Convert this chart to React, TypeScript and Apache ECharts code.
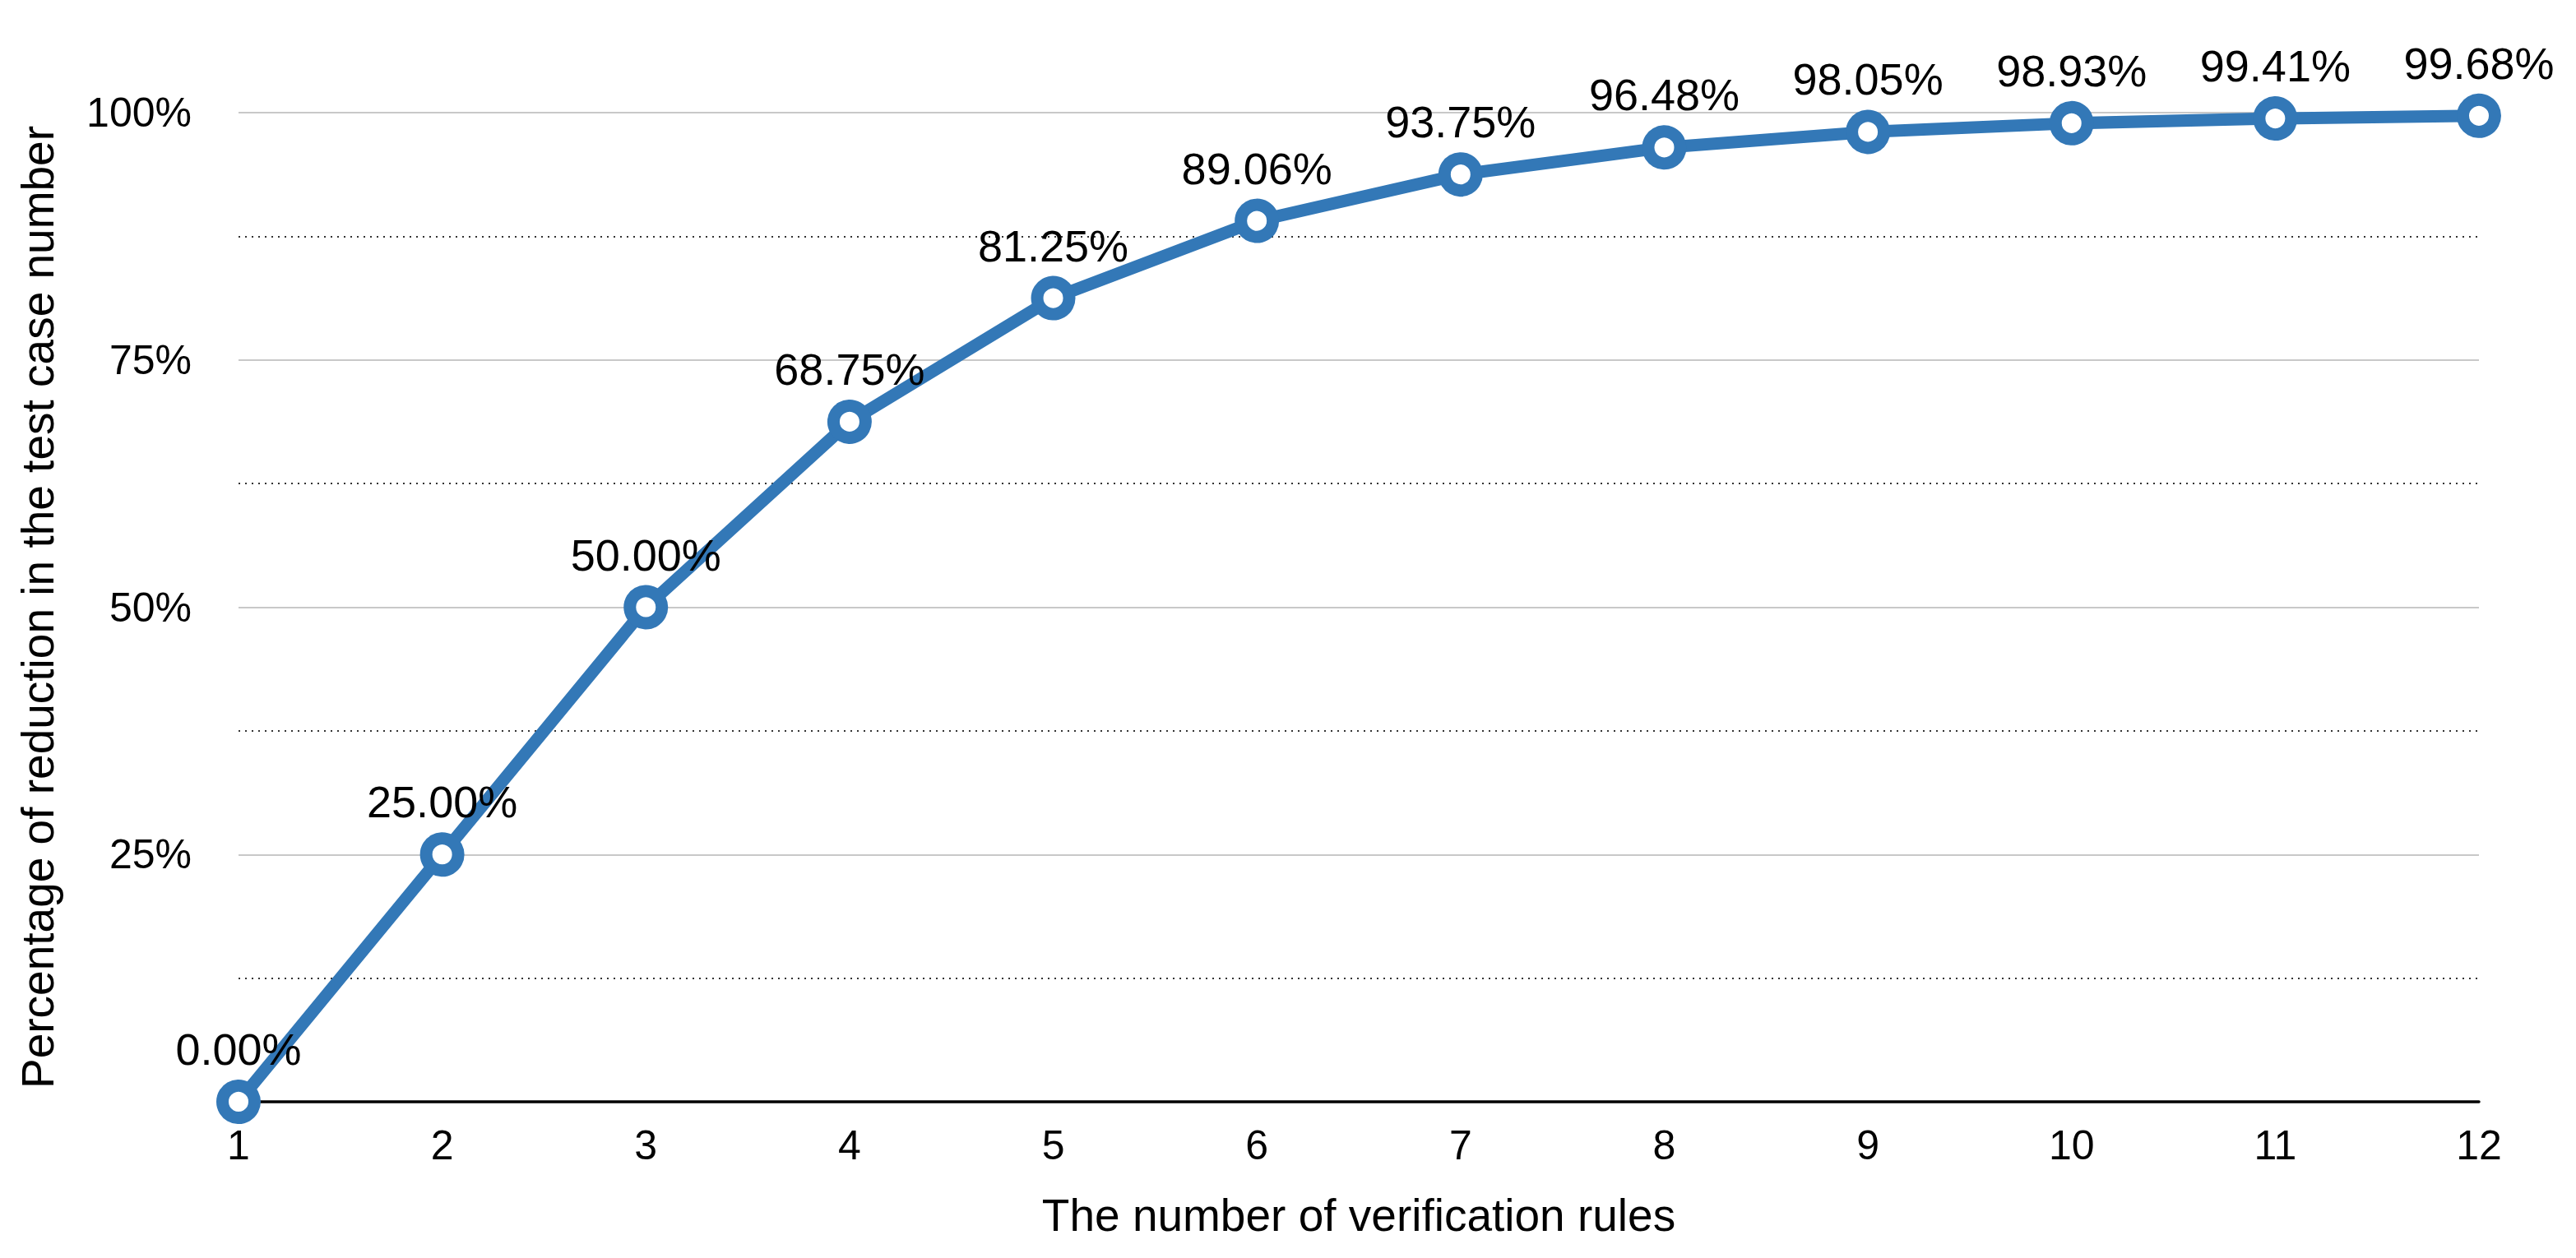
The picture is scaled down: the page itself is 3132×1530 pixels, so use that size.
import React, { useEffect, useRef } from "react";
import * as echarts from "echarts";

const categories = ["1", "2", "3", "4", "5", "6", "7", "8", "9", "10", "11", "12"];
const reduction = [0.0, 25.0, 50.0, 68.75, 81.25, 89.06, 93.75, 96.48, 98.05, 98.93, 99.41, 99.68];
const yTicks = [0, 25, 50, 75, 100];
const xTitle = "The number of verification rules";
const yTitle = "Percentage of reduction in the test case number";

const FONT = "'Liberation Sans', Arial, Helvetica, sans-serif";
const BLUE = "#3378b7";

export default function App() {
  const ref = useRef<HTMLDivElement>(null);
  useEffect(() => {
    if (!ref.current) return;
    const chart = echarts.init(ref.current, undefined, { renderer: "svg" });
    chart.setOption({
      animation: false,
      backgroundColor: "#ffffff",
      grid: { left: 290, right: 118, top: 137, bottom: 190, containLabel: false },
      xAxis: {
        type: "category",
        data: categories,
        boundaryGap: false,
        axisLine: { show: true, lineStyle: { color: "#000000", width: 3.5 } },
        axisTick: { show: false },
        axisLabel: { color: "#000000", fontSize: 50, fontFamily: FONT, margin: 28 },
        splitLine: { show: false },
        name: xTitle,
        nameLocation: "middle",
        nameGap: 110,
        nameTextStyle: { color: "#000000", fontSize: 55, fontFamily: FONT },
      },
      yAxis: {
        type: "value",
        min: yTicks[0],
        max: yTicks[yTicks.length - 1],
        interval: 25,
        axisLine: { show: false },
        axisTick: { show: false },
        axisLabel: {
          color: "#000000",
          fontSize: 50,
          fontFamily: FONT,
          margin: 57,
          formatter: (v: number) => (v === 0 ? "" : `${v}%`),
        },
        splitLine: { show: true, lineStyle: { color: "#c8c8c8", width: 2 } },
        minorTick: { show: false, splitNumber: 2 },
        minorSplitLine: { show: true, lineStyle: { color: "#333333", width: 2, type: [2, 6] } },
        name: yTitle,
        nameLocation: "middle",
        nameGap: 217,
        nameRotate: 90,
        nameTextStyle: { color: "#000000", fontSize: 55, fontFamily: FONT },
      },
      series: [
        {
          type: "line",
          data: reduction,
          symbol: "circle",
          symbolSize: 39,
          lineStyle: { color: BLUE, width: 15 },
          itemStyle: { color: "#ffffff", borderColor: BLUE, borderWidth: 15 },
          label: {
            show: true,
            position: "top",
            distance: 10,
            color: "#000000",
            fontSize: 54,
            fontFamily: FONT,
            formatter: (p: any) => `${Number(p.value).toFixed(2)}%`,
          },
          z: 5,
        },
      ],
    });
    return () => chart.dispose();
  }, []);
  return <div ref={ref} style={{ width: 3132, height: 1530, position: "absolute", left: 0, top: 0 }} />;
}
